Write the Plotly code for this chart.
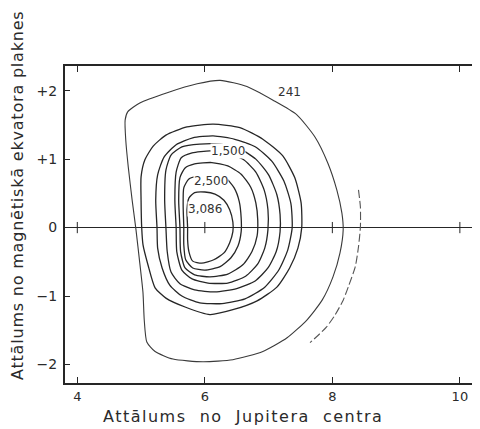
import plotly.graph_objects as go

# Axis ticks
x_ticks = [4, 6, 8, 10]
x_tick_text = ["4", "6", "8", "10"]
y_ticks = [2, 1, 0, -1, -2]
y_tick_text = ["+2", "+1", "0", "\u22121", "\u22122"]

c241_x = [4.75, 4.79, 4.98, 5.41, 5.88, 6.24, 6.66, 7.07, 7.44, 7.73, 7.93, 8.07, 8.15, 8.17, 8.12, 8.01,
          7.84, 7.60, 7.29, 6.91, 6.44, 5.97, 5.50, 5.22, 5.09, 5.05, 5.03, 4.98, 4.92, 4.86, 4.80, 4.76]
c241_y = [1.57, 1.69, 1.82, 1.97, 2.10, 2.15, 2.06, 1.86, 1.65, 1.32, 0.94, 0.55, 0.21, -0.03, -0.37, -0.72,
          -1.06, -1.35, -1.61, -1.81, -1.93, -1.96, -1.92, -1.81, -1.67, -1.35, -0.95, -0.52, -0.03, 0.40, 0.88, 1.28]

arc_x = [8.41, 8.44, 8.44, 8.41, 8.36, 8.26, 8.17, 8.04, 7.91, 7.77, 7.65]
arc_y = [0.55, 0.30, 0.01, -0.28, -0.57, -0.84, -1.06, -1.28, -1.45, -1.58, -1.68]

c7_x = [5.01, 5.00, 5.00, 5.06, 5.19, 5.39, 5.72, 6.13, 6.55, 6.91, 7.22, 7.41, 7.51, 7.52, 7.46, 7.33,
        7.13, 6.82, 6.44, 6.08, 5.69, 5.39, 5.22, 5.11, 5.03]
c7_y = [0.00, 0.40, 0.74, 0.99, 1.19, 1.35, 1.47, 1.51, 1.46, 1.29, 1.05, 0.73, 0.36, 0.00, -0.30, -0.59,
        -0.87, -1.07, -1.20, -1.27, -1.16, -1.03, -0.88, -0.55, -0.25]

c6_x = [5.25, 5.23, 5.26, 5.36, 5.55, 5.81, 6.13, 6.47, 6.79, 7.05, 7.24, 7.35, 7.37, 7.30, 7.16, 6.94,
        6.63, 6.27, 5.92, 5.64, 5.45, 5.33, 5.26]
c6_y = [0.00, 0.40, 0.77, 1.03, 1.21, 1.31, 1.34, 1.29, 1.18, 0.97, 0.68, 0.35, 0.00, -0.33, -0.62, -0.87,
        -1.04, -1.11, -1.10, -1.00, -0.84, -0.59, -0.30]

c5_x = [5.39, 5.37, 5.39, 5.47, 5.64, 5.92, 6.24, 6.55, 6.80, 7.00, 7.13, 7.18, 7.18, 7.12, 6.99, 6.79,
        6.50, 6.16, 5.84, 5.61, 5.47, 5.41]
c5_y = [0.00, 0.40, 0.84, 1.06, 1.18, 1.22, 1.22, 1.15, 1.00, 0.77, 0.48, 0.19, -0.06, -0.35, -0.59, -0.78,
        -0.89, -0.94, -0.91, -0.82, -0.65, -0.35]

c4_x = [5.55, 5.53, 5.55, 5.63, 5.80, 6.08, 6.36, 6.61, 6.80, 6.93, 6.99, 6.99, 6.94, 6.83, 6.64, 6.36,
        6.05, 5.80, 5.64, 5.56]
c4_y = [0.00, 0.40, 0.81, 1.02, 1.09, 1.12, 1.09, 0.99, 0.81, 0.55, 0.26, -0.03, -0.30, -0.53, -0.71, -0.81,
        -0.81, -0.75, -0.62, -0.35]

c3_x = [5.61, 5.59, 5.61, 5.69, 5.84, 6.11, 6.36, 6.57, 6.72, 6.80, 6.83, 6.82, 6.74, 6.60, 6.36, 6.08,
        5.84, 5.69, 5.62]
c3_y = [0.00, 0.40, 0.73, 0.87, 0.93, 0.95, 0.90, 0.78, 0.59, 0.36, 0.11, -0.12, -0.35, -0.54, -0.68, -0.72,
        -0.69, -0.59, -0.35]

c2_x = [5.67, 5.66, 5.67, 5.75, 5.89, 6.11, 6.32, 6.46, 6.54, 6.57, 6.57, 6.52, 6.41, 6.24, 6.00, 5.81,
        5.70, 5.67]
c2_y = [0.00, 0.33, 0.58, 0.71, 0.75, 0.77, 0.73, 0.58, 0.38, 0.14, -0.06, -0.27, -0.44, -0.57, -0.62, -0.59,
        -0.47, -0.25]

c1_x = [5.73, 5.72, 5.75, 5.84, 6.00, 6.16, 6.30, 6.39, 6.44, 6.44, 6.39, 6.30, 6.14, 5.95, 5.81, 5.75, 5.73]
c1_y = [0.00, 0.26, 0.43, 0.51, 0.52, 0.49, 0.40, 0.26, 0.08, -0.06, -0.22, -0.37, -0.47, -0.52, -0.49,
        -0.35, -0.18]

# Contour labels: text, x, y
label_text = ["241", "1,500", "2,500", "3,086"]
label_x = [7.33, 6.36, 6.10, 6.00]
label_y = [1.98, 1.12, 0.68, 0.27]

x_title = "Attālums  no  Jupitera  centra"
y_title = "Attālums no magnētiskā ekvatora plaknes"

INK = "#262626"
FONT = "DejaVu Sans"

fig = go.Figure()


def closed(xs, ys):
    return list(xs) + [xs[0]], list(ys) + [ys[0]]


# outer thin contour
ox, oy = closed(c241_x, c241_y)
fig.add_trace(go.Scatter(x=ox, y=oy, mode="lines",
                         line=dict(color="#3a3a3a", width=1.1, shape="spline", smoothing=0.6),
                         hoverinfo="skip", showlegend=False))
# open dashed arc
fig.add_trace(go.Scatter(x=arc_x, y=arc_y, mode="lines",
                         line=dict(color="#555555", width=1.1, shape="spline", smoothing=0.6, dash="8px,3px"),
                         hoverinfo="skip", showlegend=False))

for xs, ys in [(c7_x, c7_y), (c6_x, c6_y), (c5_x, c5_y), (c4_x, c4_y),
               (c3_x, c3_y), (c2_x, c2_y), (c1_x, c1_y)]:
    cx, cy = closed(xs, ys)
    fig.add_trace(go.Scatter(x=cx, y=cy, mode="lines",
                             line=dict(color=INK, width=1.3, shape="spline", smoothing=0.6),
                             hoverinfo="skip", showlegend=False))

# small cross marks on the zero line at the x ticks
fig.add_trace(go.Scatter(x=x_ticks, y=[0] * len(x_ticks), mode="markers",
                         marker=dict(symbol="line-ns-open", size=8, color=INK, line=dict(color=INK, width=1)),
                         hoverinfo="skip", showlegend=False))

annotations = []
for i, (t, lx, ly) in enumerate(zip(label_text, label_x, label_y)):
    annotations.append(dict(x=lx, y=ly, xref="x", yref="y", text=t, showarrow=False,
                            font=dict(family=FONT, size=12, color="#333333"),
                            bgcolor="white" if i > 0 else "rgba(0,0,0,0)", borderpad=0))

annotations.append(dict(x=0.431, y=-0.107, xref="paper", yref="paper",
                        text='<span style="letter-spacing:1.5px">' + x_title + '</span>', showarrow=False,
                        xanchor="center", yanchor="middle",
                        font=dict(family=FONT, size=16, color="#2a2a2a")))
annotations.append(dict(x=-0.116, y=0.593, xref="paper", yref="paper",
                        text='<span style="letter-spacing:0.8px">' + y_title + '</span>', showarrow=False,
                        textangle=-90, xanchor="center", yanchor="middle",
                        font=dict(family=FONT, size=16, color="#2a2a2a")))

# the page body has an 8px margin, so the figure is sized to the remaining window
fig.update_layout(
    width=472, height=421,
    margin=dict(l=57, r=1, t=58, b=46, autoexpand=False),
    paper_bgcolor="white", plot_bgcolor="white",
    showlegend=False,
    annotations=annotations,
    xaxis=dict(range=[3.807, 10.30], tickvals=x_ticks, ticktext=x_tick_text,
               ticks="inside", ticklen=6, tickwidth=1, tickcolor=INK,
               showline=True, linewidth=2, linecolor=INK, mirror="ticks",
               showgrid=False, zeroline=False, ticklabelstandoff=0, automargin=False,
               tickfont=dict(family=FONT, size=13, color="#2a2a2a")),
    yaxis=dict(range=[-2.27, 2.36], tickvals=y_ticks, ticktext=y_tick_text,
               ticks="inside", ticklen=5, tickwidth=1, tickcolor=INK,
               showline=True, linewidth=2, linecolor=INK, mirror=True,
               showgrid=False, zeroline=True, zerolinecolor=INK, zerolinewidth=1.3,
               ticklabelstandoff=3, automargin=False,
               tickfont=dict(family=FONT, size=14, color="#2a2a2a")),
)

fig.write_html("out.html")
